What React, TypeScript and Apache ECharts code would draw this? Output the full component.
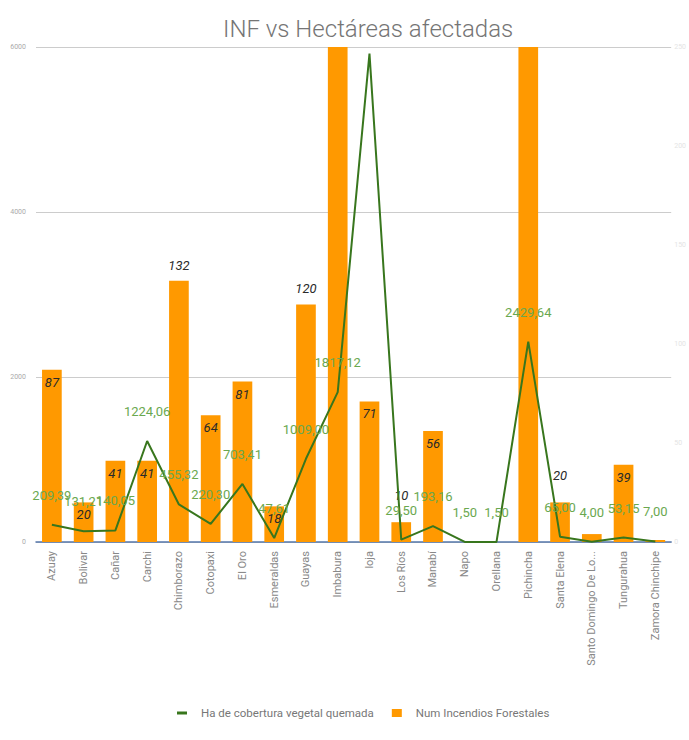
import React, { useEffect, useRef } from "react";
import * as echarts from "echarts";

const provinces = [
  "Azuay", "Bolivar", "Cañar", "Carchi", "Chimborazo", "Cotopaxi", "El Oro",
  "Esmeraldas", "Guayas", "Imbabura", "loja", "Los Ríos", "Manabí", "Napo",
  "Orellana", "Pichincha", "Santa Elena", "Santo Domingo De Los Tsáchilas",
  "Tungurahua", "Zamora Chinchipe",
];
const hectares = [
  209.39, 131.21, 140.05, 1224.06, 455.32, 220.3, 703.41, 47.61, 1009.0,
  1817.12, 5920, 29.5, 193.16, 1.5, 1.5, 2429.64, 65.0, 4.0, 53.15, 7.0,
];
const fires = [87, 20, 41, 41, 132, 64, 81, 18, 120, 268, 71, 10, 56, 0, 0, 262, 20, 4, 39, 1];
const leftTicks = [0, 2000, 4000, 6000];
const rightTicks = [0, 50, 100, 150, 200, 250];

const hiddenLineLabels = ["loja"];
const barLabelsAbove = ["Chimborazo", "Guayas"];
const barLabelsAboveFar = ["Los Ríos", "Santa Elena"];
const hiddenBarLabels = ["Imbabura", "Pichincha", "Napo", "Orellana", "Santo Domingo De Los Tsáchilas", "Zamora Chinchipe"];

const fmtComma = (v: number) => v.toFixed(2).replace(".", ",");

export default function App() {
  const ref = useRef<HTMLDivElement>(null);
  useEffect(() => {
    if (!ref.current) return;
    const chart = echarts.init(ref.current, undefined, { renderer: "svg" });
    const lineData = hectares.map((v, i) => ({
      value: v,
      label: hiddenLineLabels.includes(provinces[i]) ? { show: false } : undefined,
    }));
    const barData = fires.map((v, i) => {
      const p = provinces[i];
      let label: any = undefined;
      if (hiddenBarLabels.includes(p)) label = { show: false };
      else if (barLabelsAbove.includes(p)) label = { position: "top", distance: 9 };
      else if (barLabelsAboveFar.includes(p)) label = { position: "top", distance: 20 };
      return { value: v, label };
    });
    chart.setOption({
      animation: false,
      backgroundColor: "#ffffff",
      title: {
        text: "INF vs Hectáreas afectadas",
        left: 218,
        top: 12,
        textStyle: { fontFamily: "Roboto", fontSize: 24, fontWeight: 300, color: "#757575" },
      },
      legend: {
        bottom: 16,
        left: 172,
        itemGap: 18,
        itemWidth: 10,
        itemHeight: 8,
        textStyle: { fontFamily: "Roboto", fontSize: 11.5, color: "#777", padding: [0, 0, 0, 9] },
        data: [
          { name: "Ha de cobertura vegetal quemada", icon: "path://M0,3h10v3h-10z" },
          { name: "Num Incendios Forestales", icon: "rect" },
        ],
      },
      grid: { left: 36, right: 9, top: 47, bottom: 198, containLabel: false },
      xAxis: {
        type: "category",
        data: provinces,
        axisTick: { show: false },
        axisLine: { show: true, lineStyle: { color: "#5577aa", width: 1.5 } },
        axisLabel: {
          rotate: 90,
          fontFamily: "Roboto",
          fontSize: 11,
          color: "#888",
          margin: 9,
          width: 120,
          overflow: "truncate",
          ellipsis: "...",
          interval: 0,
        },
      },
      yAxis: [
        {
          type: "value",
          min: 0,
          max: 6000,
          interval: 2000,
          position: "left",
          axisLine: { show: false },
          axisTick: { show: false },
          axisLabel: {
            fontFamily: "Roboto",
            fontSize: 7,
            color: "#aaa",
            margin: 10,
            formatter: (v: number) => (leftTicks.includes(v) ? String(v) : ""),
          },
          splitLine: { show: true, lineStyle: { color: "#cccccc", width: 1 } },
        },
        {
          type: "value",
          min: 0,
          max: 250,
          interval: 50,
          position: "right",
          axisLine: { show: false },
          axisTick: { show: false },
          axisLabel: {
            fontFamily: "Roboto",
            fontSize: 7,
            color: "#e4e4e4",
            margin: 3,
            formatter: (v: number) => (rightTicks.includes(v) ? String(v) : ""),
          },
          splitLine: { show: false },
        },
      ],
      series: [
        {
          name: "Num Incendios Forestales",
          type: "bar",
          yAxisIndex: 1,
          data: barData,
          barWidth: "62%",
          itemStyle: { color: "#ff9900" },
          clip: true,
          z: 2,
          label: {
            show: true,
            position: "insideTop",
            distance: 6,
            fontFamily: "Roboto",
            fontSize: 13,
            fontStyle: "italic",
            color: "#2a2a2a",
          },
        },
        {
          name: "Ha de cobertura vegetal quemada",
          type: "line",
          yAxisIndex: 0,
          data: lineData,
          symbol: "circle",
          symbolSize: 0,
          showSymbol: true,
          lineStyle: { color: "#38761d", width: 2 },
          itemStyle: { color: "#38761d" },
          z: 3,
          label: {
            show: true,
            position: "top",
            distance: 23,
            fontFamily: "Roboto",
            fontSize: 13,
            color: "#6aa84f",
            formatter: (p: any) => fmtComma(p.value),
          },
        },
      ],
    });
    return () => chart.dispose();
  }, []);
  return (
    <div
      ref={ref}
      style={{ position: "fixed", left: 0, top: 0, width: 689, height: 740, background: "#fff" }}
    />
  );
}
